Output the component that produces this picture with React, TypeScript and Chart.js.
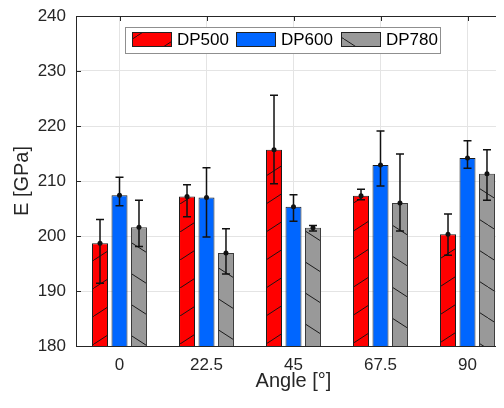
import React, { useEffect, useRef } from "react";
import { Chart, registerables } from "chart.js";

Chart.register(...registerables);

const categories = ["0", "22.5", "45", "67.5", "90"];
const seriesNames = ["DP500", "DP600", "DP780"];

const dp500 = [198.7, 207.2, 215.7, 207.3, 200.3];
const dp500Low = [191.4, 203.5, 209.5, 206.6, 196.5];
const dp500High = [203.0, 209.3, 225.6, 208.5, 204.0];

const dp600 = [207.4, 207.0, 205.3, 212.9, 214.2];
const dp600Low = [205.5, 199.8, 202.7, 209.1, 212.3];
const dp600High = [210.7, 212.4, 207.5, 219.1, 217.3];

const dp780 = [201.6, 196.9, 201.5, 206.0, 211.3];
const dp780Low = [198.1, 193.1, 200.9, 200.9, 206.5];
const dp780High = [206.5, 201.3, 201.9, 214.9, 215.7];

const yMin = 180;
const yMax = 240;
const yStep = 10;

const colors = ["#ff0000", "#0066ff", "#999999"];
const hatchDirs = ["up", "none", "down"];
const hatchSpacing = [28, 0, 31];

const FONT = "'Liberation Sans', Arial, Helvetica, sans-serif";
const TEXT = "#262626";
const AXIS = "#262626";
const GRID = "#e4e4e4";

function makeHatch(ctx: CanvasRenderingContext2D, bg: string, dir: string, H: number): any {
  if (dir === "none") return bg;
  const W = Math.round(H / 0.65);
  const c = document.createElement("canvas");
  c.width = W;
  c.height = H;
  const g = c.getContext("2d")!;
  g.fillStyle = bg;
  g.fillRect(0, 0, W, H);
  g.strokeStyle = "rgba(20,20,20,0.95)";
  g.lineWidth = 1;
  const s = H / W;
  g.beginPath();
  if (dir === "up") {
    g.moveTo(-3, H + 3 * s);
    g.lineTo(W + 3, -3 * s);
  } else {
    g.moveTo(-3, -3 * s);
    g.lineTo(W + 3, H + 3 * s);
  }
  g.stroke();
  return ctx.createPattern(c, "repeat");
}

const errorBarPlugin = {
  id: "errorBars",
  afterDatasetsDraw(chart: any) {
    const { ctx } = chart;
    const y = chart.scales.y;
    ctx.save();
    ctx.strokeStyle = "#111111";
    ctx.fillStyle = "#111111";
    ctx.lineWidth = 1.5;
    chart.data.datasets.forEach((ds: any, d: number) => {
      const meta = chart.getDatasetMeta(d);
      meta.data.forEach((bar: any, i: number) => {
        const x = bar.x;
        const yl = y.getPixelForValue(ds.errLow[i]);
        const yh = y.getPixelForValue(ds.errHigh[i]);
        const ym = y.getPixelForValue(ds.data[i]);
        ctx.beginPath();
        ctx.moveTo(x, yl);
        ctx.lineTo(x, yh);
        ctx.moveTo(x - 4, yl);
        ctx.lineTo(x + 4, yl);
        ctx.moveTo(x - 4, yh);
        ctx.lineTo(x + 4, yh);
        ctx.stroke();
        ctx.beginPath();
        ctx.arc(x, ym, 2.5, 0, Math.PI * 2);
        ctx.fill();
      });
    });
    ctx.restore();
  },
};

const axesPlugin = {
  id: "boxAxes",
  beforeDatasetsDraw(chart: any) {
    const { ctx, chartArea } = chart;
    const x = chart.scales.x;
    const y = chart.scales.y;
    ctx.save();
    ctx.strokeStyle = AXIS;
    ctx.lineWidth = 1;
    ctx.beginPath();
    y.ticks.forEach((t: any) => {
      const py = Math.round(y.getPixelForValue(t.value)) + 0.5;
      ctx.moveTo(chartArea.left, py);
      ctx.lineTo(chartArea.left + 5, py);
    });
    categories.forEach((_c, i) => {
      const px = Math.round(x.getPixelForValue(i)) + 0.5;
      ctx.moveTo(px, chartArea.top);
      ctx.lineTo(px, chartArea.top + 5);
    });
    ctx.stroke();
    ctx.restore();
  },
  afterDraw(chart: any) {
    const { ctx, chartArea } = chart;
    ctx.save();
    ctx.strokeStyle = AXIS;
    ctx.lineWidth = 1;
    ctx.beginPath();
    const ty = Math.round(chartArea.top) + 0.5;
    ctx.moveTo(chartArea.left, ty);
    ctx.lineTo(chartArea.right, ty);
    ctx.stroke();
    ctx.restore();
  },
};

const legendPlugin = {
  id: "boxLegend",
  afterDraw(chart: any) {
    const { ctx } = chart;
    const bx = 117.5;
    const by = 19.5;
    const bw = 315;
    const bh = 26;
    ctx.save();
    ctx.fillStyle = "#ffffff";
    ctx.fillRect(bx, by, bw, bh);
    ctx.strokeStyle = "#8f8f8f";
    ctx.lineWidth = 1;
    ctx.strokeRect(bx, by, bw, bh);
    const swX = [124, 228, 333];
    ctx.font = `17px ${FONT}`;
    ctx.textBaseline = "middle";
    ctx.textAlign = "left";
    chart.data.datasets.forEach((ds: any, d: number) => {
      const sx = swX[d];
      ctx.fillStyle = ds.backgroundColor;
      ctx.fillRect(sx, 24, 40, 15);
      ctx.strokeStyle = "#222222";
      ctx.strokeRect(sx + 0.5, 24.5, 39, 14);
      ctx.fillStyle = "#000000";
      ctx.fillText(ds.label, sx + 45, 32.5);
    });
    ctx.restore();
  },
};

export default function App() {
  const ref = useRef<HTMLCanvasElement | null>(null);

  useEffect(() => {
    const canvas = ref.current;
    if (!canvas) return;
    const ctx = canvas.getContext("2d")!;
    const values = [dp500, dp600, dp780];
    const lows = [dp500Low, dp600Low, dp780Low];
    const highs = [dp500High, dp600High, dp780High];
    const datasets = seriesNames.map((name, k) => ({
      label: name,
      data: values[k],
      errLow: lows[k],
      errHigh: highs[k],
      backgroundColor: makeHatch(ctx, colors[k], hatchDirs[k], hatchSpacing[k]),
      borderColor: k === 2 ? "#3a3a3a" : "#1a1a1a",
      borderWidth: 1,
      borderSkipped: false,
      barPercentage: 0.82,
      categoryPercentage: 0.672,
    }));

    const chart = new Chart(canvas, {
      type: "bar",
      data: { labels: categories, datasets: datasets as any },
      options: {
        responsive: false,
        animation: false,
        devicePixelRatio: 1,
        layout: { padding: { top: 8, right: 7, left: 0, bottom: 0 } },
        plugins: {
          legend: { display: false },
          tooltip: { enabled: false },
        },
        scales: {
          x: {
            grid: { offset: false, color: GRID, drawTicks: false, lineWidth: 1 },
            border: { display: true, color: AXIS, width: 1 },
            ticks: { color: TEXT, font: { family: FONT, size: 17 }, padding: 9 },
            title: {
              display: true,
              text: "Angle [°]",
              color: TEXT,
              font: { family: FONT, size: 20 },
              padding: { top: 7, bottom: 7 },
            },
            afterFit: (s: any) => {
              s.height = 54;
              s.paddingLeft = 0;
              s.paddingRight = 0;
            },
          },
          y: {
            min: yMin,
            max: yMax,
            grid: { color: GRID, drawTicks: false, lineWidth: 1 },
            border: { display: true, color: AXIS, width: 1 },
            ticks: {
              stepSize: yStep,
              color: TEXT,
              font: { family: FONT, size: 17 },
              padding: 10,
            },
            title: {
              display: true,
              text: "E [GPa]",
              color: TEXT,
              font: { family: FONT, size: 20 },
              padding: { top: 2, bottom: 2 },
            },
            afterFit: (s: any) => {
              s.width = 68;
              s.paddingTop = 0;
              s.paddingBottom = 0;
            },
          },
        },
      } as any,
      plugins: [axesPlugin, errorBarPlugin, legendPlugin],
    });
    return () => chart.destroy();
  }, []);

  return (
    <div style={{ width: 496, height: 392, overflow: "hidden" }}>
      <canvas ref={ref} width={510} height={392} style={{ display: "block", width: 510, height: 392 }} />
    </div>
  );
}
